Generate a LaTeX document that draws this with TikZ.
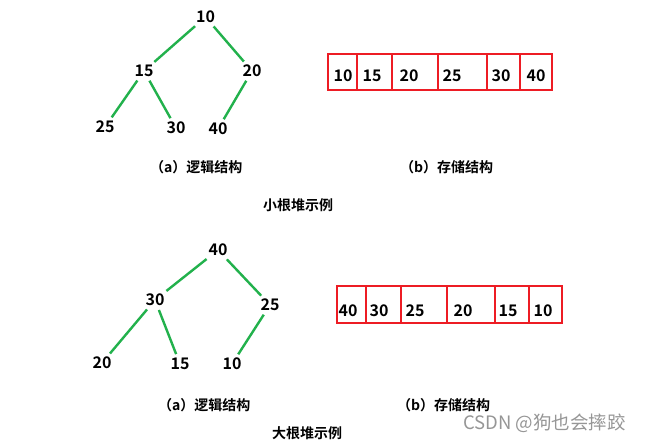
\documentclass[tikz,border=0pt]{standalone}
\usepackage{fontspec}
\setmainfont{Noto Sans CJK SC}[BoldFont={Noto Sans CJK SC Bold}]
\definecolor{edgegreen}{RGB}{34,177,76}
\definecolor{boxred}{RGB}{237,28,36}
\definecolor{wmgray}{RGB}{150,150,150}
\tikzset{
  num/.style={inner sep=1pt, font=\fontsize{16}{16}\selectfont\bfseries},
  captext/.style={inner sep=0pt, font=\fontsize{14}{14}\selectfont\bfseries},
  tedge/.style={draw=edgegreen, line width=2.4pt, shorten <=3pt, shorten >=3pt},
  cellbox/.style={draw=boxred, line width=2pt}
}
\begin{document}
\begin{tikzpicture}[x=1pt,y=-1pt]
\useasboundingbox[fill=white] (0,0) rectangle (651,446);
% top tree
\node[num] (t10) at (205.5,17) {10};
\node[num] (t15) at (144,71) {15};
\node[num] (t20) at (252,71) {20};
\node[num] (t25) at (105,127) {25};
\node[num] (t30) at (176,128) {30};
\node[num] (t40) at (218,129) {40};
\draw[tedge] (t10) -- (t15);
\draw[tedge] (t10) -- (t20);
\draw[tedge] (t15) -- (t25);
\draw[tedge] (t15) -- (t30);
\draw[tedge] (t20) -- (t40);
% top array
\draw[cellbox] (328,54) rectangle (357,90);
\draw[cellbox] (357,54) rectangle (392,90);
\draw[cellbox] (392,54) rectangle (438,90);
\draw[cellbox] (438,54) rectangle (487,90);
\draw[cellbox] (487,54) rectangle (520,90);
\draw[cellbox] (520,54) rectangle (552,90);
\node[num] (a1) at (343,76) {10};
\node[num] (a2) at (372,76) {15};
\node[num] (a3) at (409,76) {20};
\node[num] (a4) at (452,76) {25};
\node[num] (a5) at (501,76) {30};
\node[num] (a6) at (536,76) {40};
\node[captext, anchor=west] (ca1) at (150,167) {（a）逻辑结构};
\node[captext, anchor=west] (cb1) at (400,167) {（b）存储结构};
\node[captext] (ct1) at (298,205) {小根堆示例};
% bottom tree
\node[num] (b40) at (218,250) {40};
\node[num] (b30) at (155,300) {30};
\node[num] (b25) at (270,305) {25};
\node[num] (b20) at (102,363) {20};
\node[num] (b15) at (180,364) {15};
\node[num] (b10) at (232,364) {10};
\draw[tedge] (b40) -- (b30);
\draw[tedge] (b40) -- (b25);
\draw[tedge] (b30) -- (b20);
\draw[tedge] (b30) -- (b15);
\draw[tedge] (b25) -- (b10);
% bottom array
\draw[cellbox] (337,286) rectangle (366,323);
\draw[cellbox] (366,286) rectangle (401,323);
\draw[cellbox] (401,286) rectangle (447,323);
\draw[cellbox] (447,286) rectangle (495,323);
\draw[cellbox] (495,286) rectangle (529,323);
\draw[cellbox] (529,286) rectangle (562,323);
\node[num] (d1) at (348,311) {40};
\node[num] (d2) at (379,311) {30};
\node[num] (d3) at (415,311) {25};
\node[num] (d4) at (463,311) {20};
\node[num] (d5) at (508,311) {15};
\node[num] (d6) at (543,311) {10};
\node[captext, anchor=west] (ca2) at (158,405) {（a）逻辑结构};
\node[captext, anchor=west] (cb2) at (397,405) {（b）存储结构};
\node[captext] (ct2) at (307,433) {大根堆示例};
\node[inner sep=0pt, anchor=west, text=wmgray, font=\fontsize{18.5}{18.5}\selectfont] (wm) at (463,423) {CSDN @狗也会摔跤};
\end{tikzpicture}
\end{document}
